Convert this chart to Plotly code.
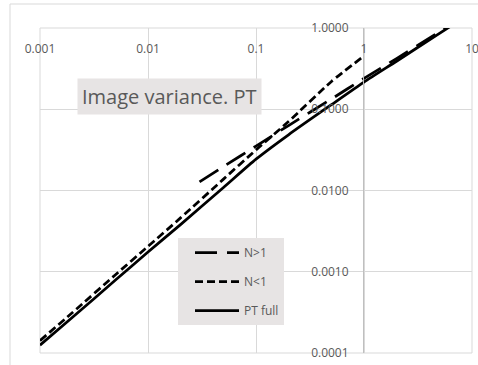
import plotly.graph_objects as go

# Series values (log-log)
x_pt = [0.001, 0.002, 0.005, 0.01, 0.02, 0.05, 0.1, 0.2, 0.5, 1, 2, 5, 10]
y_pt = [1.25e-4, 2.75e-4, 7.9e-4, 1.75e-3, 3.8e-3, 0.0109, 0.0243, 0.0485, 0.114, 0.216, 0.39, 0.86, 1.55]

x_lt = [0.001, 0.002, 0.005, 0.01, 0.02, 0.05, 0.1, 0.2, 0.5, 1]
y_lt = [1.42e-4, 3.15e-4, 9.2e-4, 2.05e-3, 4.6e-3, 0.0138, 0.0316, 0.0706, 0.22, 0.452]

x_gt = [0.03, 0.05, 0.1, 0.2, 0.5, 1, 2, 5, 10]
y_gt = [0.0128, 0.0197, 0.0352, 0.063, 0.134, 0.24, 0.42, 0.9, 1.6]

# Axis ticks
x_ticks = [0.001, 0.01, 0.1, 1, 10]
x_ticktext = ["0.001", "0.01", "0.1", "1", "10"]
y_ticks = [0.0001, 0.001, 0.01, 0.1, 1]
y_ticktext = ["0.0001", "0.0010", "0.0100", "0.1000", "1.0000"]

title_text = "Image variance. PT"

FONT = "Open Sans"
GRAY_TXT = "#595959"
GRID = "#d9d9d9"
BOX = "#e7e4e4"

fig = go.Figure()
fig.add_trace(go.Scatter(x=x_gt, y=y_gt, mode="lines", name="N>1", legendgroup="a",
                         line=dict(color="black", width=2.75, dash="22px,10px", shape="spline", smoothing=0.6)))
fig.add_trace(go.Scatter(x=x_lt, y=y_lt, mode="lines", name="N<1", legendgroup="b",
                         line=dict(color="black", width=2.75, dash="8px,4px", shape="spline", smoothing=0.6)))
fig.add_trace(go.Scatter(x=x_pt, y=y_pt, mode="lines", name="PT full", legendgroup="c",
                         line=dict(color="black", width=2.75, shape="spline", smoothing=0.6)))


def border(x0, y0, x1, y1):
    return dict(type="line", xref="paper", yref="paper", x0=x0, x1=x1, y0=y0, y1=y1,
                line=dict(color=GRID, width=1), layer="below")


fig.update_layout(
    width=478, height=365,
    margin=dict(l=40, r=6, t=28, b=12, autoexpand=False),
    paper_bgcolor="white", plot_bgcolor="white",
    font=dict(family=FONT, size=12, color=GRAY_TXT),
    showlegend=True,
    legend=dict(
        x=(178 - 40) / 432, y=(353 - 238) / 325, xanchor="left", yanchor="top",
        bgcolor=BOX, borderwidth=0, tracegroupgap=10, itemwidth=44,
        font=dict(family=FONT, size=12, color=GRAY_TXT),
        indentation=12,
    ),
    xaxis=dict(
        type="log", range=[-3, 1], automargin=False,
        anchor="free", position=1, side="bottom",
        tickvals=x_ticks, ticktext=x_ticktext,
        ticklabelposition="outside", ticklabelstandoff=12,
        ticklabeloverflow="allow",
        ticks="", showgrid=True, gridcolor=GRID, gridwidth=1,
        showline=False, zeroline=False,
        tickfont=dict(family=FONT, size=12, color=GRAY_TXT),
    ),
    yaxis=dict(
        type="log", range=[-4, 0], automargin=False,
        tickvals=y_ticks, ticktext=y_ticktext,
        anchor="free", position=(363 - 40) / 432, side="left",
        ticks="", ticklabelstandoff=12,
        showgrid=True, gridcolor=GRID, gridwidth=1,
        showline=True, linecolor="#bfbfbf", zeroline=False,
        tickfont=dict(family=FONT, size=12, color=GRAY_TXT),
    ),
    shapes=[
        dict(type="rect", xref="paper", yref="paper",
             x0=(10 - 40) / 432, x1=1.1, y0=-0.1, y1=(353 - 4) / 325,
             line=dict(color=GRID, width=1), fillcolor="rgba(0,0,0,0)", layer="below"),
        border(0, 0, 0, 1),
        border(1, 0, 1, 1),
        border(0, 0, 1, 0),
        border(0, 1, 1, 1),
    ],
    annotations=[
        dict(text=title_text, xref="paper", yref="paper",
             x=(169 - 40) / 432, y=(353 - 96) / 325, xanchor="center", yanchor="middle",
             showarrow=False, bgcolor=BOX, borderpad=4,
             font=dict(family=FONT, size=20, color=GRAY_TXT)),
    ],
)

fig.write_html("out.html")
